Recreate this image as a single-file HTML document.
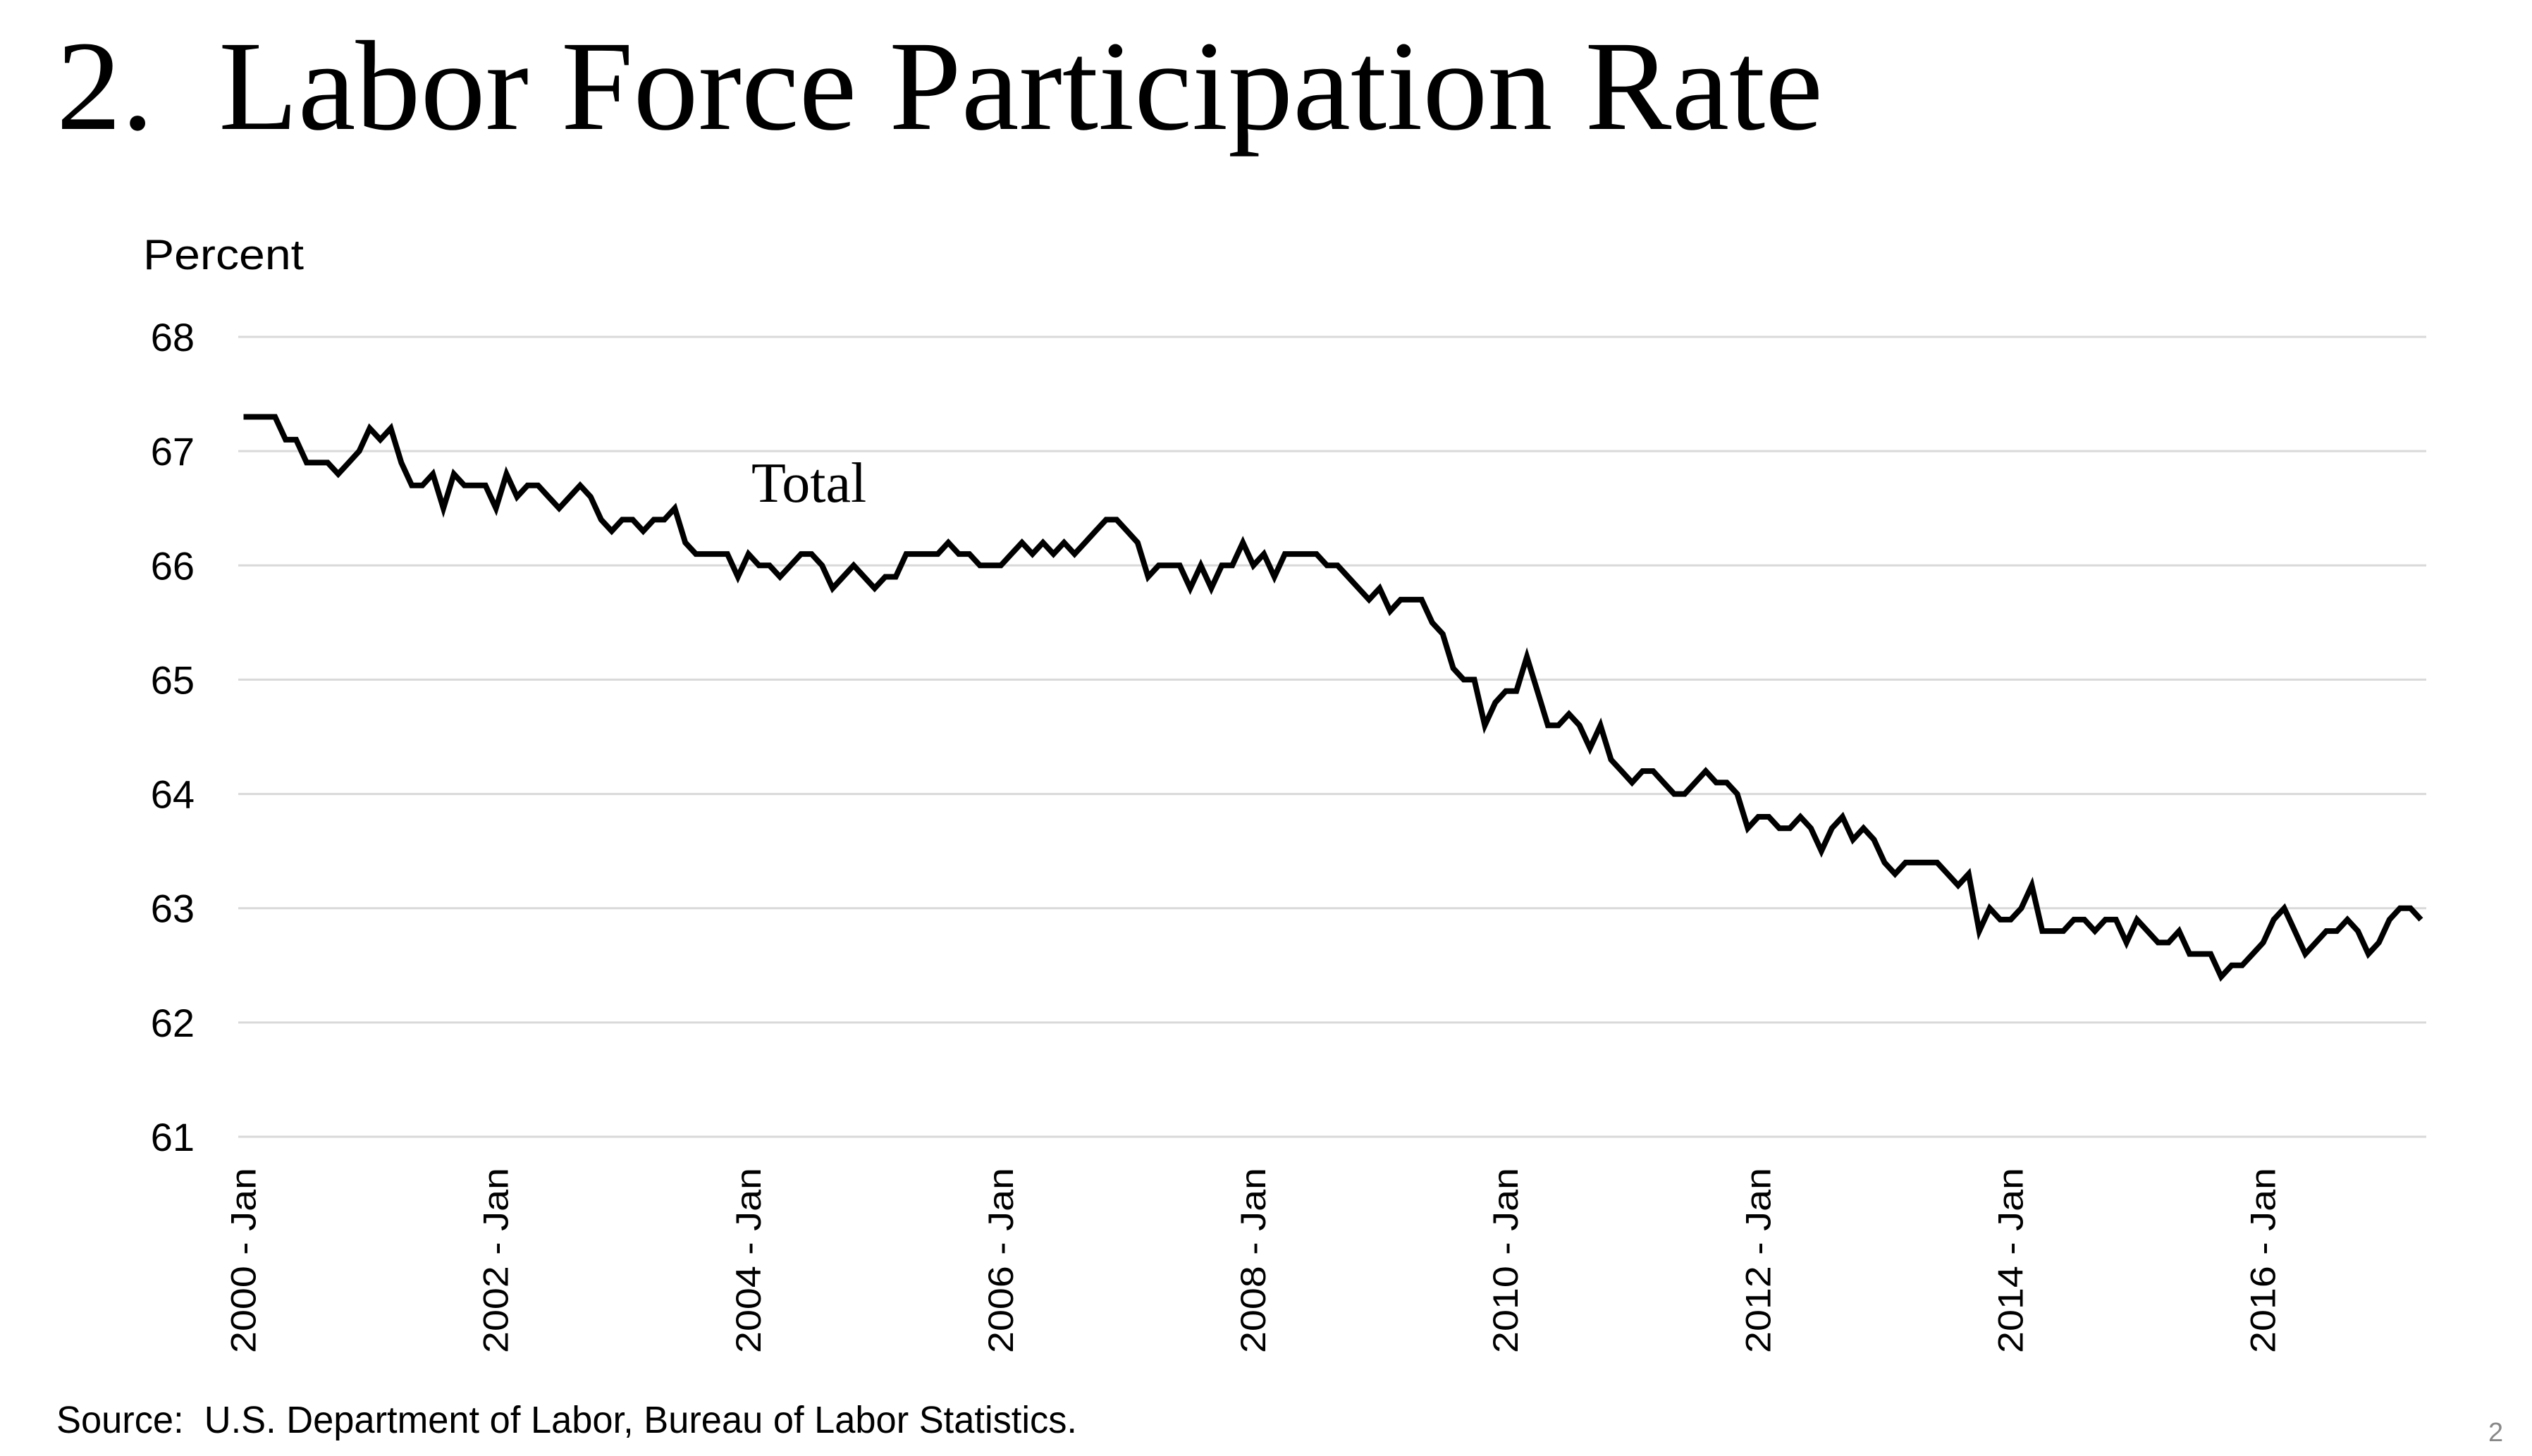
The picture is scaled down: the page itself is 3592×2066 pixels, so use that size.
<!DOCTYPE html>
<html><head><meta charset="utf-8"><style>
html,body{margin:0;padding:0;background:#fff;}
svg{display:block;}
</style></head><body>
<svg id="chart" width="3592" height="2066" viewBox="0 0 3592 2066" xmlns="http://www.w3.org/2000/svg">
<text x="80" y="183" font-family="Liberation Serif, serif" font-size="182" fill="#000" textLength="2506" lengthAdjust="spacingAndGlyphs">2.&#160; Labor Force Participation Rate</text>
<text x="203" y="382" font-family="Liberation Sans, sans-serif" font-size="60" fill="#000" textLength="228" lengthAdjust="spacingAndGlyphs">Percent</text>
<g id="grid"></g>
<g id="ylabels"></g>
<g id="xlabels"></g>
<text x="1066" y="712" font-family="Liberation Serif, serif" font-size="80" fill="#000">Total</text>
<path id="line" fill="none" stroke="#000" stroke-width="8" stroke-linejoin="miter"/>
<text x="80" y="2033" font-family="Liberation Sans, sans-serif" font-size="54" fill="#000" textLength="1448" lengthAdjust="spacingAndGlyphs">Source:&#160; U.S. Department of Labor, Bureau of Labor Statistics.</text>
<text x="3530" y="2045" font-family="Liberation Sans, sans-serif" font-size="38" fill="#888">2</text>
</svg>
<script>
const yTicks = [61,62,63,64,65,66,67,68];
const xTickLabels = ["2000 - Jan","2002 - Jan","2004 - Jan","2006 - Jan","2008 - Jan","2010 - Jan","2012 - Jan","2014 - Jan","2016 - Jan"];
const startYear = 2000;
const values = [
67.3,67.3,67.3,67.3,67.1,67.1,66.9,66.9,66.9,66.8,66.9,67.0,
67.2,67.1,67.2,66.9,66.7,66.7,66.8,66.5,66.8,66.7,66.7,66.7,
66.5,66.8,66.6,66.7,66.7,66.6,66.5,66.6,66.7,66.6,66.4,66.3,
66.4,66.4,66.3,66.4,66.4,66.5,66.2,66.1,66.1,66.1,66.1,65.9,
66.1,66.0,66.0,65.9,66.0,66.1,66.1,66.0,65.8,65.9,66.0,65.9,
65.8,65.9,65.9,66.1,66.1,66.1,66.1,66.2,66.1,66.1,66.0,66.0,
66.0,66.1,66.2,66.1,66.2,66.1,66.2,66.1,66.2,66.3,66.4,66.4,
66.3,66.2,65.9,66.0,66.0,66.0,65.8,66.0,65.8,66.0,66.0,66.2,
66.0,66.1,65.9,66.1,66.1,66.1,66.1,66.0,66.0,65.9,65.8,65.7,
65.8,65.6,65.7,65.7,65.7,65.5,65.4,65.1,65.0,65.0,64.6,64.8,
64.9,64.9,65.2,64.9,64.6,64.6,64.7,64.6,64.4,64.6,64.3,64.2,
64.1,64.2,64.2,64.1,64.0,64.0,64.1,64.2,64.1,64.1,64.0,63.7,
63.8,63.8,63.7,63.7,63.8,63.7,63.5,63.7,63.8,63.6,63.7,63.6,
63.4,63.3,63.4,63.4,63.4,63.4,63.3,63.2,63.3,62.8,63.0,62.9,
62.9,63.0,63.2,62.8,62.8,62.8,62.9,62.9,62.8,62.9,62.9,62.7,
62.9,62.8,62.7,62.7,62.8,62.6,62.6,62.6,62.4,62.5,62.5,62.6,
62.7,62.9,63.0,62.8,62.6,62.7,62.8,62.8,62.9,62.8,62.6,62.7,
62.9,63.0,63.0,62.9
];
const NS = "http://www.w3.org/2000/svg";
const L = 338, R = 3442, T = 478, B = 1613, yMin = 61, yMax = 68;
const nCats = 208;
const step = (R - L) / nCats;
function xScale(i){ return L + (i + 0.5) * step; }
function yScale(v){ return B - (v - yMin) / (yMax - yMin) * (B - T); }
const grid = document.getElementById('grid');
const yl = document.getElementById('ylabels');
yTicks.forEach(t => {
  const ln = document.createElementNS(NS,'line');
  ln.setAttribute('x1', L); ln.setAttribute('x2', R);
  ln.setAttribute('y1', yScale(t)); ln.setAttribute('y2', yScale(t));
  ln.setAttribute('stroke', '#d9d9d9'); ln.setAttribute('stroke-width', '3');
  
  
  grid.appendChild(ln);
  const tx = document.createElementNS(NS,'text');
  tx.setAttribute('x', 276); tx.setAttribute('y', yScale(t) + 20);
  tx.setAttribute('text-anchor', 'end');
  tx.setAttribute('font-family', 'Liberation Sans, sans-serif');
  tx.setAttribute('font-size', '56');
  tx.textContent = t;
  
  
  yl.appendChild(tx);
});
const xl = document.getElementById('xlabels');
xTickLabels.forEach((lab, k) => {
  const i = k * 24;
  const x = xScale(i) + 17;
  const y = 1920;
  const tx = document.createElementNS(NS,'text');
  tx.setAttribute('x', x); tx.setAttribute('y', y);
  tx.setAttribute('transform', 'rotate(-90 ' + x + ' ' + y + ')');
  tx.setAttribute('font-family', 'Liberation Sans, sans-serif');
  tx.setAttribute('font-size', '50');
  tx.setAttribute('textLength', '263');
  tx.setAttribute('lengthAdjust', 'spacingAndGlyphs');
  tx.textContent = lab;
  
  
  xl.appendChild(tx);
});
let d = '';
values.forEach((v, i) => { d += (i ? 'L' : 'M') + xScale(i).toFixed(1) + ' ' + yScale(v).toFixed(1); });
document.getElementById('line').setAttribute('d', d);
</script>
</body></html>
